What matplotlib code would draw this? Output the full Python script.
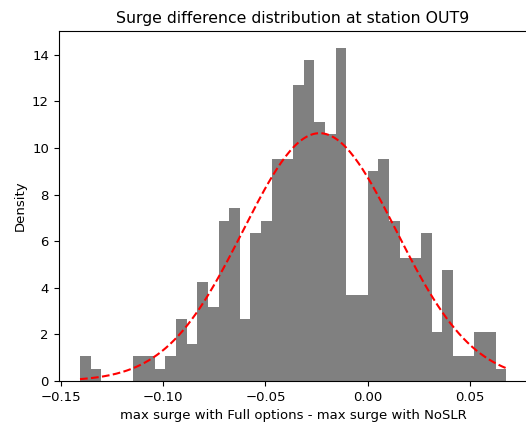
import numpy as np
import matplotlib
matplotlib.use("Agg")
import matplotlib.pyplot as plt

# Histogram (density)
bin_start = -0.14076
bin_width = 0.005214
densities = [1.06, 0.53, 0, 0, 0, 1.06, 1.06, 0.53, 1.06, 2.65,
             1.59, 4.24, 3.18, 6.89, 7.42, 2.65, 6.36, 6.89, 9.54, 9.54,
             12.72, 13.78, 11.13, 10.6, 14.31, 3.71, 3.71, 9.01, 9.54, 6.89,
             5.3, 5.3, 6.36, 2.12, 4.77, 1.06, 1.06, 2.12, 2.12, 0.53]

# Normal fit parameters
fit_mean = -0.0235
fit_std = 0.0375

edges = bin_start + bin_width * np.arange(len(densities) + 1)
centers = 0.5 * (edges[:-1] + edges[1:])

fig = plt.figure(figsize=(5.26, 4.23), dpi=100)
ax = fig.add_axes([58.7 / 526, 42 / 423, (527.5 - 58.7) / 526, 350 / 423])

ax.hist(centers, bins=edges, weights=densities, color="gray")

xs = np.linspace(edges[0], edges[-1], 200)
pdf = np.exp(-0.5 * ((xs - fit_mean) / fit_std) ** 2) / (fit_std * np.sqrt(2 * np.pi))
ax.plot(xs, pdf, "r--", linewidth=1.5)

ax.tick_params(labelsize=9.5)
ax.set_title("Surge difference distribution at station OUT9", fontsize=11.3, pad=5.7)
ax.set_xlabel("max surge with Full options - max surge with NoSLR", fontsize=9.5)
ax.set_ylabel("Density", fontsize=9.5)

fig.savefig("out.png", dpi=100)
